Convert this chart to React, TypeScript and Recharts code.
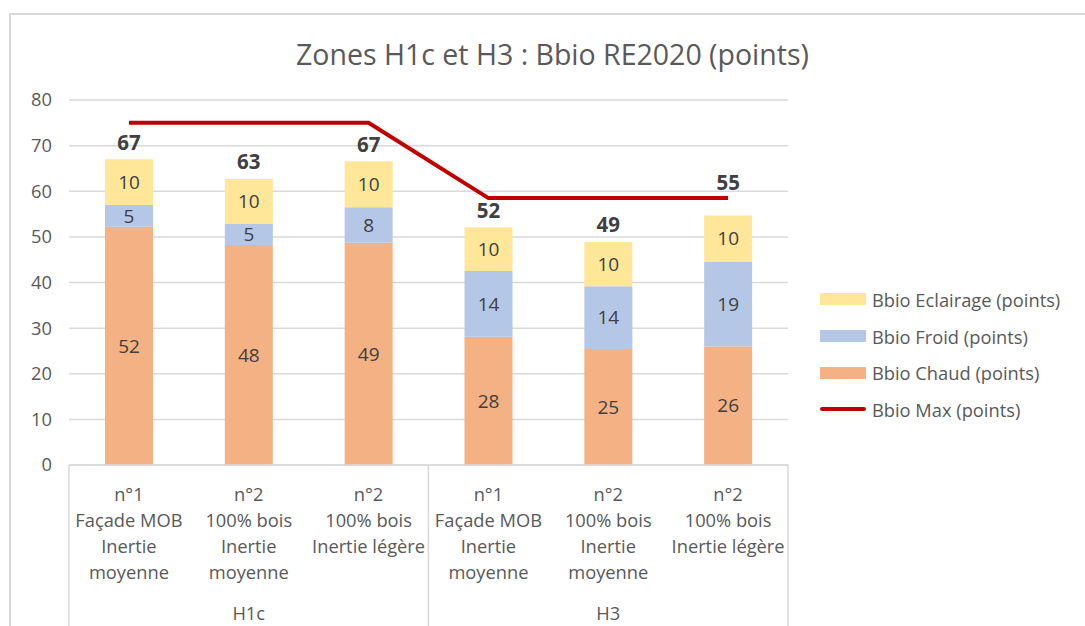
import React from "react"
import {
  ComposedChart,
  Bar,
  Line,
  XAxis,
  YAxis,
  CartesianGrid,
  LabelList,
} from "recharts"

const categories = [
  ["n°1", "Façade MOB", "Inertie", "moyenne"],
  ["n°2", "100% bois", "Inertie", "moyenne"],
  ["n°2", "100% bois", "Inertie légère"],
  ["n°1", "Façade MOB", "Inertie", "moyenne"],
  ["n°2", "100% bois", "Inertie", "moyenne"],
  ["n°2", "100% bois", "Inertie légère"],
]
const groups = ["H1c", "H1c", "H1c", "H3", "H3", "H3"]
const bbioChaud = [52.2, 48.2, 48.7, 28.1, 25.4, 26.0]
const bbioFroid = [4.8, 4.6, 7.8, 14.4, 13.8, 18.6]
const bbioEclairage = [10, 9.9, 10.1, 9.6, 9.7, 10.1]
const bbioMax = [75, 75, 75, 58.5, 58.5, 58.5]
const yTicks = [0, 10, 20, 30, 40, 50, 60, 70, 80]

const stackTops = bbioChaud.map((c, i) => c + bbioFroid[i] + bbioEclairage[i])
const totals = stackTops.map((t) => Math.round(t))

const data = categories.map((lines, i) => ({
  name: lines.join(" "),
  chaud: bbioChaud[i],
  froid: bbioFroid[i],
  eclairage: bbioEclairage[i],
  max: bbioMax[i],
}))

const FONT = "'Open Sans', Lato, sans-serif"
const TEXT = "#595959"
const GRID = "#d9d9d9"

const legendItems = [
  { label: "Bbio Eclairage (points)", color: "#FFE699", line: false },
  { label: "Bbio Froid (points)", color: "#B4C7E7", line: false },
  { label: "Bbio Chaud (points)", color: "#F4B183", line: false },
  { label: "Bbio Max (points)", color: "#C00000", line: true },
]

const CategoryTick = (props: any) => {
  const { x, y, payload, index } = props
  const i = payload.index ?? index
  const lines = categories[i] || []
  const band = 120
  return (
    <g>
      {lines.map((t, k) => (
        <text
          key={k}
          x={x}
          y={y + 23 + k * 26}
          textAnchor="middle"
          dominantBaseline="middle"
          fill={TEXT}
          fontSize={18.3}
          fontFamily={FONT}
        >
          {t}
        </text>
      ))}
      {i % 3 === 1 && (
        <text
          x={x}
          y={y + 142}
          textAnchor="middle"
          dominantBaseline="middle"
          fill={TEXT}
          fontSize={18.3}
          fontFamily={FONT}
        >
          {groups[i]}
        </text>
      )}
      {i % 3 === 0 && (
        <line x1={x - band / 2} x2={x - band / 2} y1={y - 8} y2={y + 170} stroke={GRID} strokeWidth={1.5} />
      )}
      {i === categories.length - 1 && (
        <line x1={x + band / 2} x2={x + band / 2} y1={y - 8} y2={y + 170} stroke={GRID} strokeWidth={1.5} />
      )}
    </g>
  )
}

// total above each stack; pushed above the Bbio Max line if they would overlap
const TotalLabel = (props: any) => {
  const { x, y, width, height, index } = props
  const ppu = Math.abs(height) / bbioEclairage[index]
  const lineY = y - (bbioMax[index] - stackTops[index]) * ppu
  let ly = y - 15
  if (ly + 10 > lineY - 3 && ly - 10 < lineY + 3) ly = lineY - 14
  return (
    <text
      x={x + width / 2}
      y={ly}
      textAnchor="middle"
      dominantBaseline="middle"
      fill="#404040"
      fontSize={20.5}
      fontWeight="bold"
      fontFamily={FONT}
    >
      {totals[index]}
    </text>
  )
}

const valueLabel = (v: any) => Math.round(Number(v))

export default function App() {
  return (
    <div
      style={{
        position: "absolute",
        left: 0,
        top: 0,
        width: 1085,
        height: 626,
        overflow: "hidden",
        background: "#fff",
        fontFamily: FONT,
      }}
    >
      <div
        style={{
          position: "absolute",
          left: 9,
          top: 13,
          width: 1200,
          height: 800,
          border: `2px solid ${GRID}`,
        }}
      />
      <div
        style={{
          position: "absolute",
          left: 10,
          width: 1085,
          top: 35,
          textAlign: "center",
          fontSize: 28.5,
          color: TEXT,
          lineHeight: "38px",
        }}
      >
        Zones H1c et H3 : Bbio RE2020 (points)
      </div>
      <div style={{ position: "absolute", left: 0, top: 0 }}>
        <ComposedChart
          width={1085}
          height={626}
          data={data}
          margin={{ top: 100, right: 297, bottom: 0, left: 0 }}
          barCategoryGap="30%"
        >
          <CartesianGrid vertical={false} stroke={GRID} strokeWidth={1.5} />
          <XAxis
            dataKey="name"
            interval={0}
            height={161}
            tickLine={false}
            axisLine={{ stroke: GRID, strokeWidth: 1.5 }}
            tick={<CategoryTick />}
          />
          <YAxis
            domain={[0, 80]}
            ticks={yTicks}
            width={69}
            axisLine={false}
            tickLine={false}
            tickSize={0}
            tickMargin={17}
            tick={{ fill: TEXT, fontSize: 18.3, fontFamily: FONT }}
          />
          <Bar dataKey="chaud" stackId="a" fill="#F4B183" barSize={48} isAnimationActive={false}>
            <LabelList dataKey="chaud" position="center" formatter={valueLabel} fill="#404040" fontSize={19} fontFamily={FONT} />
          </Bar>
          <Bar dataKey="froid" stackId="a" fill="#B4C7E7" barSize={48} isAnimationActive={false}>
            <LabelList dataKey="froid" position="center" formatter={valueLabel} fill="#404040" fontSize={19} fontFamily={FONT} />
          </Bar>
          <Bar dataKey="eclairage" stackId="a" fill="#FFE699" barSize={48} isAnimationActive={false}>
            <LabelList dataKey="eclairage" position="center" formatter={valueLabel} fill="#404040" fontSize={19} fontFamily={FONT} />
            <LabelList dataKey="eclairage" content={<TotalLabel />} />
          </Bar>
          <Line
            dataKey="max"
            type="linear"
            stroke="#C00000"
            strokeWidth={4}
            dot={false}
            activeDot={false}
            isAnimationActive={false}
          />
        </ComposedChart>
      </div>
      <div style={{ position: "absolute", left: 820, top: 281 }}>
        {legendItems.map((it) => (
          <div
            key={it.label}
            style={{ display: "flex", alignItems: "center", height: 36.7, fontSize: 18.3, color: TEXT }}
          >
            <div
              style={{
                width: 46,
                height: it.line ? 4 : 12,
                background: it.color,
                borderRadius: it.line ? 2 : 0,
                marginRight: 6,
              }}
            />
            <span>{it.label}</span>
          </div>
        ))}
      </div>
    </div>
  )
}
